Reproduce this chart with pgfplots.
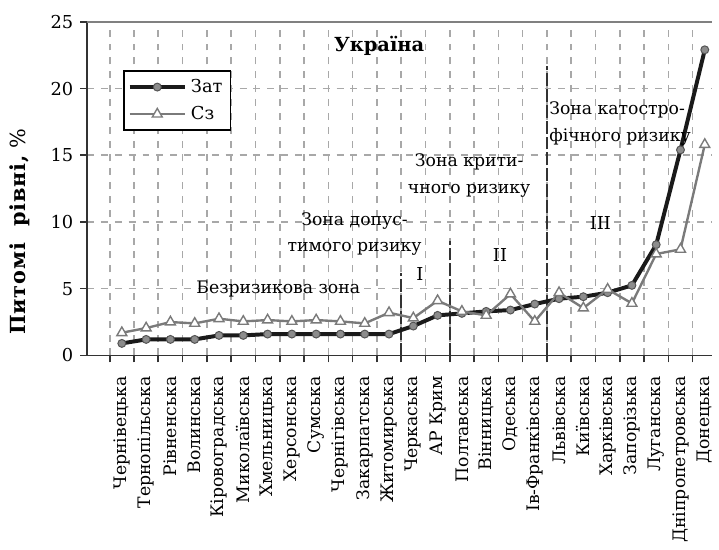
\documentclass[border=0pt]{standalone}
\usepackage{fontspec}
\setmainfont{DejaVu Serif}
\usepackage{pgfplots}
\pgfplotsset{compat=1.18}
\usepackage{pgfplotstable}
\definecolor{gridc}{HTML}{A8A8A8}
\definecolor{zatc}{HTML}{1A1A1A}
\definecolor{zatm}{HTML}{8C8C8C}
\definecolor{szc}{HTML}{7A7A7A}
\pgfplotstableread{
x zat sz
0 0.9 1.7
1 1.2 2.05
2 1.2 2.5
3 1.2 2.4
4 1.5 2.75
5 1.5 2.55
6 1.6 2.65
7 1.6 2.55
8 1.6 2.65
9 1.6 2.55
10 1.6 2.4
11 1.6 3.2
12 2.2 2.8
13 3.0 4.1
14 3.15 3.3
15 3.3 3.0
16 3.4 4.6
17 3.85 2.55
18 4.25 4.7
19 4.4 3.55
20 4.7 4.95
21 5.25 3.9
22 8.3 7.6
23 15.4 7.95
24 22.9 15.8
}\data
\begin{document}
\begin{tikzpicture}
\begin{axis}[name=ax, scale only axis, width=315.5pt, height=168.5pt,
  xmin=-1.43, xmax=24.29, ymin=0, ymax=25,
  axis lines*=left,
  axis line style={line width=0.8pt, black!80},
  tick align=outside, major tick length=3.5pt,
  tick style={black!80, line width=0.8pt},
  ytick={0,5,...,25},
  ymajorgrids, xmajorgrids,
  grid style={gridc, line width=0.8pt, dash pattern=on 3.5pt off 3.5pt},
  xtick={-0.5,0.5,...,23.5},
  xticklabels={},
  extra x ticks={0,1,...,24},
  extra x tick labels={Чернівецька,Тернопільська,Рівненська,Волинська,Кіровоградська,Миколаївська,Хмельницька,Херсонська,Сумська,Чернігівська,Закарпатська,Житомирська,Черкаська,АР Крим,Полтавська,Вінницька,Одеська,Ів-Франківська,Львівська,Київська,Харківська,Запорізька,Луганська,Дніпропетровська,Донецька},
  extra x tick style={grid=none, major tick length=0pt,
    xticklabel style={rotate=90, anchor=east, font=\fontsize{8.7}{10}\selectfont}},
  xticklabel shift=7pt,
  yticklabel style={font=\fontsize{9}{10}\selectfont},
  /pgf/number format/assume math mode=true,
  ylabel={{\bfseries\addfontfeature{LetterSpace=4}Питомі\ \ рівні,} \%},
  ylabel style={at={(axis description cs:-0.108,0.37)}, anchor=center, font=\fontsize{10.5}{12}\selectfont},
  legend style={at={(axis description cs:0.057,0.855)}, anchor=north west, draw=black, line width=0.9pt,
    font=\fontsize{9}{10}\selectfont, inner sep=2pt, row sep=1.5pt},
  legend cell align=left,
  legend image code/.code={\draw[mark repeat=2, mark phase=2, #1] plot coordinates {(0pt,0pt) (14pt,0pt) (28pt,0pt)};},
]
\draw[gray, line width=1pt] (rel axis cs:0,1) -- (rel axis cs:1,1);
\addplot[forget plot, black!80, line width=0.8pt, dash pattern=on 6.5pt off 1.5pt] coordinates {(11.5,0) (11.5,6.2)};
\addplot[forget plot, black!80, line width=0.8pt, dash pattern=on 6.5pt off 1.5pt] coordinates {(13.5,0) (13.5,8.6)};
\addplot[forget plot, black!80, line width=0.8pt, dash pattern=on 6.5pt off 1.5pt] coordinates {(17.5,0) (17.5,21.7)};
\addplot[color=zatc, line width=2pt, mark=*, mark size=2pt, mark options={fill=zatm, draw=zatm!60!black, line width=0.5pt}] table[x=x,y=zat]{\data};
\addlegendentry{Зат}
\addplot[color=szc, line width=1.2pt, mark=triangle*, mark size=2.9pt, mark options={fill=white, draw=szc, line width=0.7pt}] table[x=x,y=sz]{\data};
\addlegendentry{Сз}
\node[font=\bfseries\fontsize{9.8}{11}\selectfont] at (axis description cs:0.4675,0.929) {Україна};
\node[font=\fontsize{8.7}{10}\selectfont] at (axis cs:6.44,4.98) {Безризикова зона};
\node[font=\fontsize{8.7}{13.5}\selectfont, align=center] at (axis cs:9.58,9.1) {Зона допус-\\тимого ризику};
\node[font=\fontsize{8.7}{13.5}\selectfont, align=center] at (axis cs:14.3,13.5) {Зона крити-\\чного ризику};
\node[font=\fontsize{8.7}{13.5}\selectfont, align=left, anchor=west, inner sep=1pt] at (axis cs:17.5,17.35) {Зона катостро-\\фічного ризику};
\node[font=\fontsize{9}{10}\selectfont] at (axis cs:12.27,6.1) {I};
\node[font=\fontsize{9}{10}\selectfont] at (axis cs:15.57,7.5) {II};
\node[font=\fontsize{9}{10}\selectfont] at (axis cs:19.7,9.95) {III};
\end{axis}
\path (ax.south west) ++(-44pt,179.5pt);
\path (ax.south west) ++(315.5pt,-92.5pt);
\end{tikzpicture}
\end{document}
